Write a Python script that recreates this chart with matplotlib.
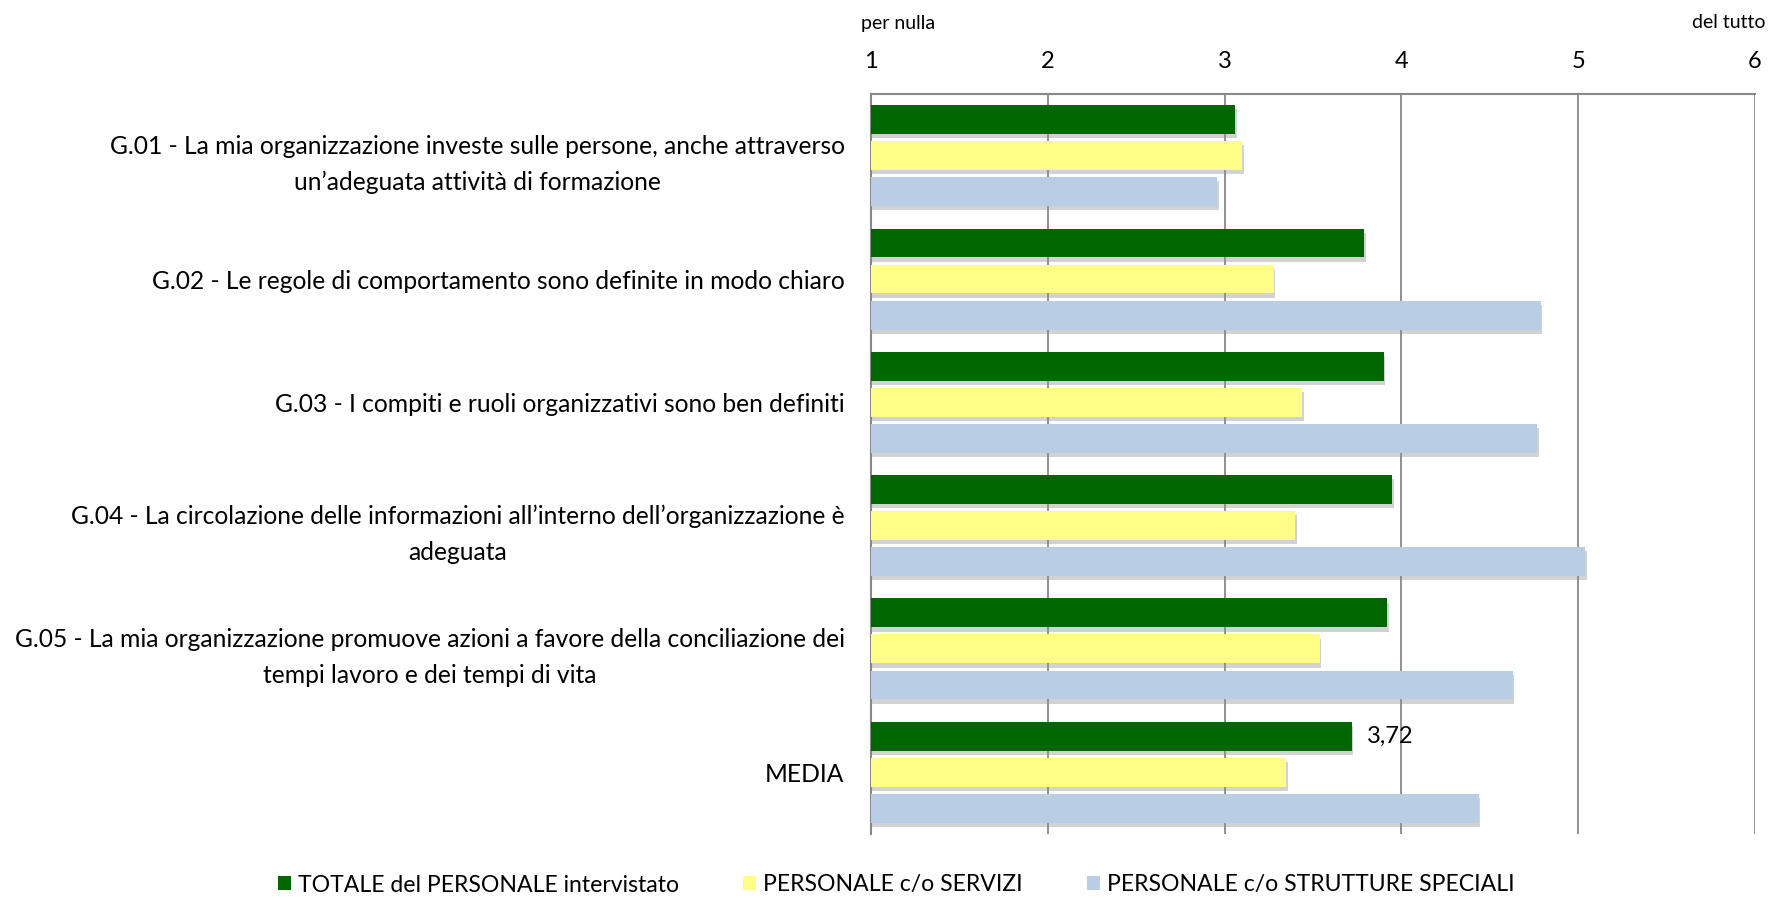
import numpy as np
import matplotlib
matplotlib.use('Agg')
import matplotlib.pyplot as plt
import matplotlib.patheffects as pe

plt.rcParams['font.family'] = ['Lato', 'DejaVu Sans']

categories = [
    'G.01 - La mia organizzazione investe sulle persone, anche attraverso\nun\u2019adeguata attività di formazione',
    'G.02 - Le regole di comportamento sono definite in modo chiaro',
    'G.03 - I compiti e ruoli organizzativi sono ben definiti',
    'G.04 - La circolazione delle informazioni all\u2019interno dell\u2019organizzazione è\nadeguata',
    'G.05 - La mia organizzazione promuove azioni a favore della conciliazione dei\ntempi lavoro e dei tempi di vita',
    'MEDIA',
]
totale = [3.06, 3.79, 3.90, 3.95, 3.92, 3.72]
servizi = [3.10, 3.28, 3.44, 3.40, 3.54, 3.35]
strutture = [2.96, 4.79, 4.77, 5.04, 4.63, 4.44]
series_names = ['TOTALE del PERSONALE intervistato', 'PERSONALE c/o SERVIZI',
                'PERSONALE c/o STRUTTURE SPECIALI']
colors = ['#006600', '#FFFF88', '#B9CDE5']
xticks = [1, 2, 3, 4, 5, 6]

fig = plt.figure(figsize=(17.71, 8.98), dpi=100)
ax = fig.add_axes([0.4918, 0.0713, 0.4991, 0.824])

y = np.arange(len(categories))
pitch = 0.292
h = 0.235
shadow = [pe.SimplePatchShadow(offset=(1, -3), shadow_rgbFace='#909090', alpha=0.4), pe.Normal()]
for k, (vals, col, name) in enumerate(zip([totale, servizi, strutture], colors, series_names)):
    v = np.array(vals)
    bars = ax.barh(y + (k - 1) * pitch, v - 1, left=1, height=h, color=col, label=name, zorder=3)
    for b in bars:
        b.set_path_effects(shadow)

# etichetta sulla media
ax.annotate(f'{totale[-1]:.2f}'.replace('.', ','), xy=(totale[-1], y[-1] - pitch),
            xytext=(11, 0), textcoords='offset points', va='center', ha='left', fontsize=17)

ax.set_xlim(1, 6)
ax.set_ylim(len(categories) - 0.5, -0.5)
ax.set_xticks(xticks)
ax.xaxis.tick_top()
ax.tick_params(axis='x', length=0, pad=16, labelsize=17)
ax.set_yticks(y)
ax.set_yticklabels(categories, multialignment='center', fontsize=17.7, linespacing=1.7)
ax.tick_params(axis='y', length=0, pad=19)
ax.grid(axis='x', color='#888888', linewidth=1.3, zorder=0)
ax.set_axisbelow(True)
for s in ['right', 'bottom']:
    ax.spines[s].set_visible(False)
for s in ['top', 'left']:
    ax.spines[s].set_color('#888888')
    ax.spines[s].set_linewidth(1.5)

fig.text(861 / 1771, 1 - 23 / 898, 'per nulla', ha='left', va='center', fontsize=14)
fig.text(1765 / 1771, 1 - 23 / 898, 'del tutto', ha='right', va='center', fontsize=14)

leg = fig.legend(loc='center', bbox_to_anchor=(0.506, 1 - 885 / 898), ncol=3, frameon=False,
                 fontsize=16.6, handlelength=0.55, handleheight=0.55, handletextpad=0.3,
                 columnspacing=2.8)
for hnd in leg.legend_handles:
    hnd.set_path_effects([])

fig.savefig('out.png', dpi=100)
